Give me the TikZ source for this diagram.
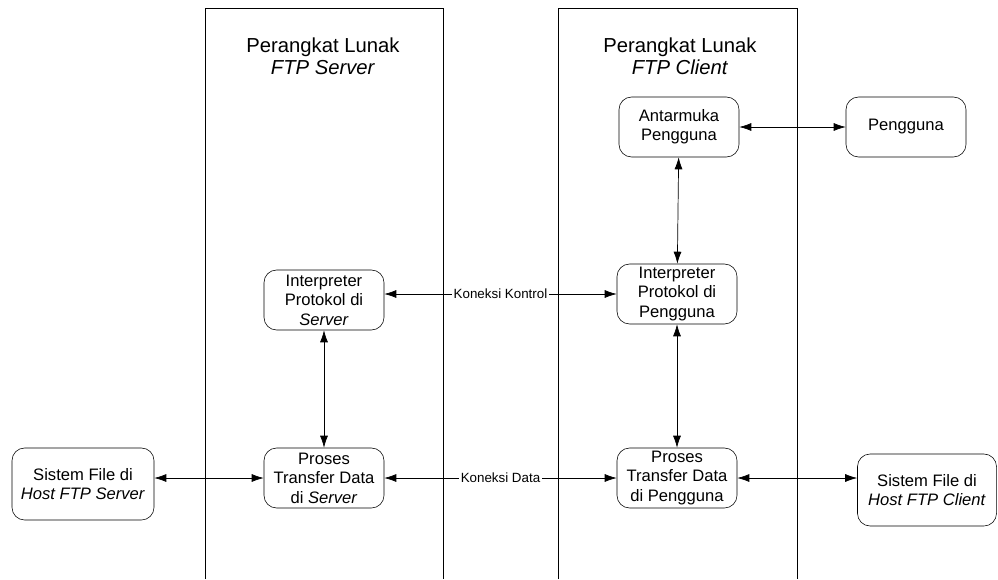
\documentclass[tikz,border=0pt]{standalone}
\usepackage{fontspec}
\setmainfont{Liberation Sans}
\usetikzlibrary{arrows.meta}

\begin{document}
\begin{tikzpicture}[x=0.025cm,y=-0.025cm,auto,swap]
\tikzstyle{box}=[draw,rounded corners=9pt,align=center,minimum width=3cm,minimum height=1.5cm,inner sep=1pt,font=\fontsize{11.8}{13.8}\selectfont]
\tikzstyle{bigbox}=[box,minimum width=3.55cm,minimum height=1.8cm]
\tikzstyle{lane}=[draw,line width=0.6pt]
\tikzstyle{title}=[align=center,font=\fontsize{14.4}{15.8}\selectfont]
\tikzstyle{edge}=[draw,line width=0.5pt,{Latex[length=3mm,width=2mm]}-{Latex[length=3mm,width=2mm]}]
\tikzstyle{conn}=[auto=false,anchor=center,fill=white,inner sep=1pt,font=\fontsize{9.5}{11}\selectfont]
    \useasboundingbox (0,0) rectangle (998,579);
    % swimlanes
    \path[lane] (205,579) |- (443,8) -- (443,579);
    \path[lane] (558,579) |- (797,8) -- (797,579);
    \node[title] (srvtitle) at (323,56) {Perangkat Lunak\\\textit{FTP Server}};
    \node[title] (clititle) at (680,56) {Perangkat Lunak\\\textit{FTP Client}};
    % boxes
    \node[box] (ui) at (679,127) {Antarmuka\\Pengguna};
    \node[box] (user) at (906,127) {Pengguna};
    \node[box] (spi) at (324,300) {Interpreter\\Protokol di\\\textit{Server}};
    \node[box] (cpi) at (677,294) {Interpreter\\Protokol di\\Pengguna};
    \node[box] (sdt) at (324,478) {Proses\\Transfer Data\\di \textit{Server}};
    \node[box] (cdt) at (677,478) {Proses\\Transfer Data\\di Pengguna};
    \node[bigbox] (sfs) at (83,484) {Sistem File di\\\textit{Host FTP Server}};
    \node[bigbox,minimum width=3.475cm] (cfs) at (927,490) {Sistem File di\\\textit{Host FTP Client}};
    % connections
    \path (ui) edge [edge] node {} (user);
    \path (ui) edge [edge] node {} (cpi);
    \path (cpi) edge [edge] node {} (cdt);
    \path (spi) edge [edge] node {} (sdt);
    \path (spi.east |- cpi.west) edge [edge] node[conn,midway] {Koneksi Kontrol} (cpi.west);
    \path (sdt) edge [edge] node[conn,midway] {Koneksi Data} (cdt);
    \path (sfs.east |- sdt.west) edge [edge] node {} (sdt.west);
    \path (cdt.east) edge [edge] node {} (cdt.east -| cfs.west);
\end{tikzpicture}
\end{document}
